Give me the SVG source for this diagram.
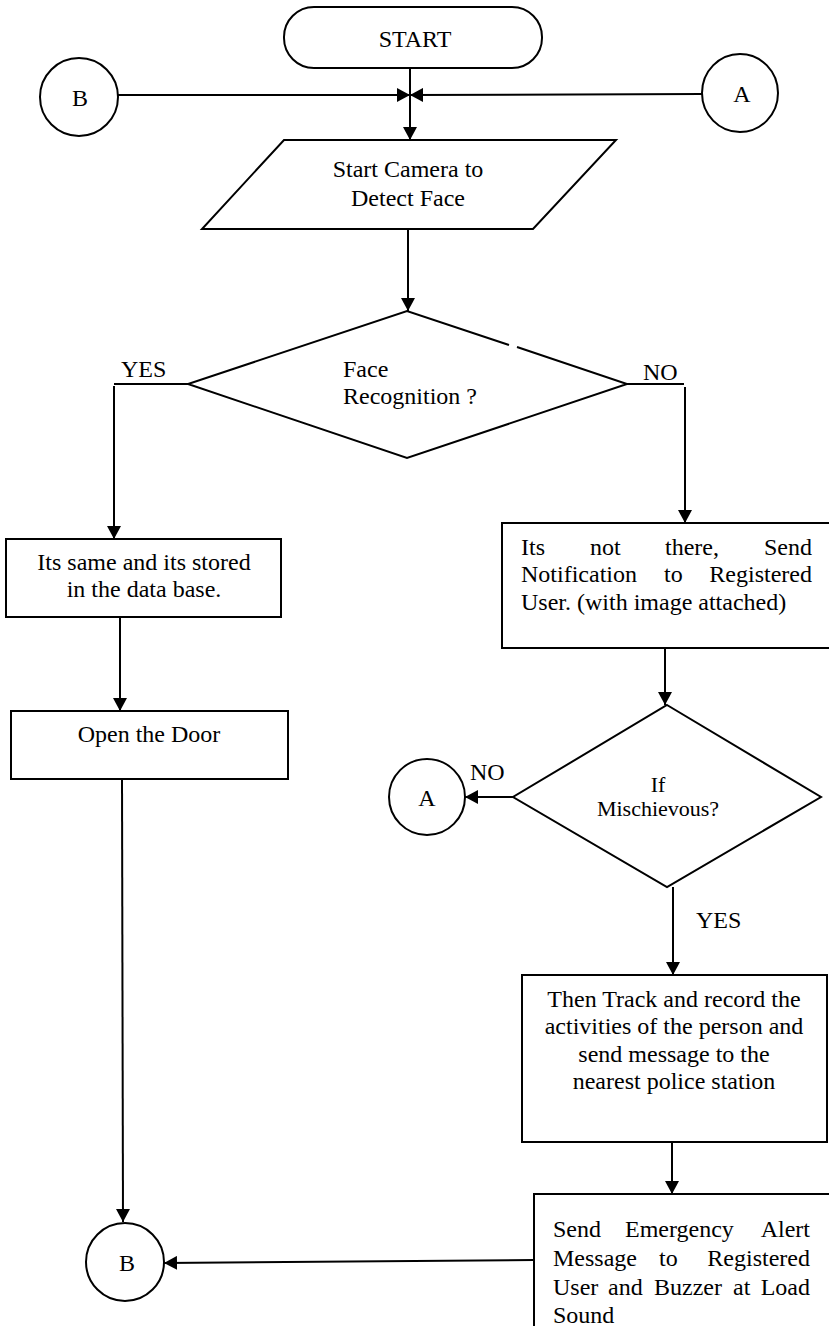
<svg xmlns="http://www.w3.org/2000/svg" width="829" height="1326" viewBox="0 0 829 1326">
  <style>
    .shape { fill: #ffffff; stroke: #000000; stroke-width: 2; }
    .open { fill: none; stroke: #000000; stroke-width: 2; }
    .flow { fill: none; stroke: #000000; stroke-width: 2; }
    .arrow { fill: none; stroke: #000000; stroke-width: 2; marker-end: url(#head); }
    text { font-family: "Liberation Serif", "Times New Roman", serif; font-size: 24px; fill: #000000; }
    .mid { text-anchor: middle; }
    .end { text-anchor: end; }
  </style>
  <defs>
    <marker id="head" viewBox="0 0 13 14" refX="13" refY="7" markerWidth="13" markerHeight="14" markerUnits="userSpaceOnUse" orient="auto">
      <path d="M0,0 L13,7 L0,14 Z" fill="#000000"/>
    </marker>
  </defs>

  <rect width="829" height="1326" fill="#ffffff"/>

  <!-- connectors -->
  <g id="connectors">
    <line class="flow" x1="410" y1="68" x2="410" y2="95"/>
    <line class="arrow" x1="410" y1="95" x2="410" y2="140"/>
    <line class="arrow" x1="118" y1="95" x2="410" y2="95"/>
    <line class="arrow" x1="702" y1="94" x2="410" y2="95"/>
    <line class="arrow" x1="408" y1="230" x2="408" y2="311"/>
    <polyline class="flow" points="188,384 114,384"/>
    <line class="arrow" x1="114" y1="386" x2="114" y2="539"/>
    <polyline class="flow" points="627,384 684,384"/>
    <line class="arrow" x1="685" y1="387" x2="685" y2="523"/>
    <line class="arrow" x1="120" y1="617" x2="120" y2="711"/>
    <line class="arrow" x1="122" y1="779" x2="123" y2="1222"/>
    <line class="arrow" x1="665" y1="648" x2="665" y2="705"/>
    <line class="arrow" x1="513" y1="797" x2="465" y2="797"/>
    <line class="arrow" x1="673" y1="887" x2="673" y2="975"/>
    <line class="arrow" x1="672" y1="1142" x2="672" y2="1194"/>
    <line class="arrow" x1="534" y1="1260" x2="164" y2="1263"/>
    <text x="121" y="377">YES</text>
    <text x="643" y="380">NO</text>
    <text x="470" y="780">NO</text>
    <text x="696" y="928">YES</text>
  </g>

  <!-- terminal -->
  <g id="start">
    <rect class="shape" x="284" y="7" width="258" height="61" rx="30" ry="30"/>
    <text class="mid" x="415" y="47">START</text>
  </g>

  <!-- connector circles -->
  <g id="connector-b-top">
    <ellipse class="shape" cx="79" cy="97" rx="39" ry="39"/>
    <text class="mid" x="80" y="106">B</text>
  </g>
  <g id="connector-a-top">
    <ellipse class="shape" cx="740" cy="93" rx="38" ry="39"/>
    <text class="mid" x="742" y="102">A</text>
  </g>

  <!-- input -->
  <g id="camera">
    <polygon class="shape" points="284,140 616,140 533,229 202,229"/>
    <text class="mid" x="408" y="177">Start Camera to</text>
    <text class="mid" x="408" y="206">Detect Face</text>
  </g>

  <!-- first decision -->
  <g id="face-recognition">
    <polygon points="407,311 627,384 407,458 188,384" fill="#ffffff" stroke="none"/>
    <polyline class="open" points="509,345 407,311 188,384 407,458 627,384 517,347"/>
    <text x="343" y="377">Face</text>
    <text x="343" y="404">Recognition ?</text>
  </g>

  <!-- known face branch -->
  <g id="stored">
    <rect class="shape" x="6" y="539" width="275" height="78"/>
    <text class="mid" x="144" y="570">Its same and its stored</text>
    <text class="mid" x="144" y="597">in the data base.</text>
  </g>
  <g id="open-door">
    <rect class="shape" x="11" y="711" width="277" height="68"/>
    <text class="mid" x="149" y="742">Open the Door</text>
  </g>

  <!-- unknown face branch -->
  <g id="notify">
    <rect x="502" y="523" width="330" height="125" fill="#ffffff"/>
    <path class="open" d="M832,523 H502 V648 H832"/>
    <text y="555"><tspan x="521">Its</tspan><tspan x="590">not</tspan><tspan x="665">there,</tspan><tspan class="end" x="812">Send</tspan></text>
    <text y="582"><tspan x="521">Notification</tspan><tspan x="664">to</tspan><tspan class="end" x="812">Registered</tspan></text>
    <text x="521" y="610">User. (with image attached)</text>
  </g>

  <g id="mischievous">
    <polygon class="shape" points="667,705 821,797 667,887 513,797"/>
    <text class="mid" x="658" y="792" style="font-size:22px">If</text>
    <text class="mid" x="658" y="816" style="font-size:22px">Mischievous?</text>
  </g>

  <g id="connector-a-mid">
    <ellipse class="shape" cx="427" cy="797" rx="38" ry="38"/>
    <text class="mid" x="427" y="806">A</text>
  </g>

  <g id="track">
    <rect class="shape" x="522" y="975" width="305" height="167"/>
    <text class="mid" x="674" y="1007">Then Track and record the</text>
    <text class="mid" x="674" y="1034">activities of the person and</text>
    <text class="mid" x="674" y="1062">send message to the</text>
    <text class="mid" x="674" y="1089">nearest police station</text>
  </g>

  <g id="alert">
    <rect x="534" y="1194" width="300" height="140" fill="#ffffff"/>
    <path class="open" d="M835,1194 H534 V1330"/>
    <text y="1237"><tspan x="553">Send</tspan><tspan x="625">Emergency</tspan><tspan class="end" x="810">Alert</tspan></text>
    <text y="1266"><tspan x="553">Message</tspan><tspan x="659">to</tspan><tspan class="end" x="810">Registered</tspan></text>
    <text y="1295"><tspan x="553">User</tspan><tspan x="608">and</tspan><tspan x="654">Buzzer</tspan><tspan x="733">at</tspan><tspan class="end" x="810">Load</tspan></text>
    <text x="553" y="1323">Sound</text>
  </g>

  <g id="connector-b-bottom">
    <ellipse class="shape" cx="125" cy="1262" rx="39" ry="39"/>
    <text class="mid" x="127" y="1271">B</text>
  </g>
</svg>
